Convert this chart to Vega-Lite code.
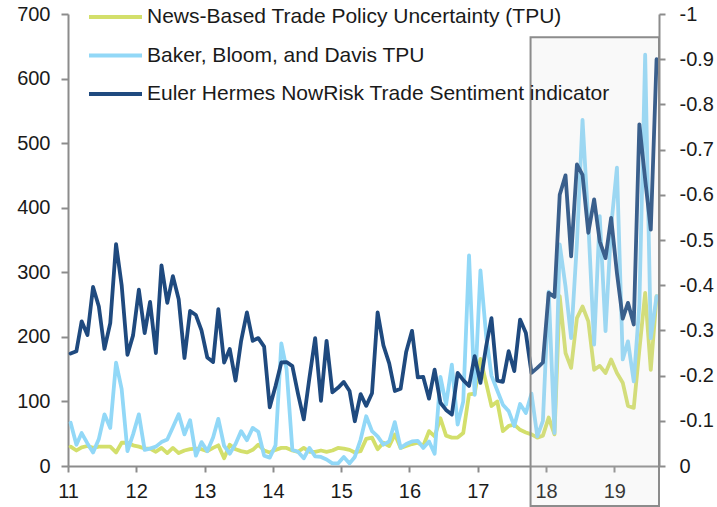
{
 "$schema": "https://vega.github.io/schema/vega-lite/v6.json",
 "width": 591,
 "height": 452,
 "autosize": {"type": "none"},
 "padding": {"left": 68, "top": 14, "right": 58, "bottom": 41},
 "background": "white",
 "config": {
  "view": {"stroke": null},
  "font": "Liberation Sans",
  "axis": {"grid": false, "domainColor": "#8c8c8c", "domainWidth": 2, "tickColor": "#8c8c8c", "tickWidth": 2, "labelFont": "Liberation Sans", "labelFontSize": 20, "labelColor": "#1a1a1a", "title": null},
  "axisX": {"labelExpr": "utcFormat(datum.value, '%y')", "tickCount": {"interval": "year", "step": 1}, "tickSize": 6, "labelPadding": 9, "labelFlush": false, "labelOverlap": false},
  "legend": {"orient": "none", "legendX": 19, "legendY": -7, "symbolType": "stroke", "symbolSize": 2809, "symbolStrokeWidth": 4, "labelFont": "Liberation Sans", "labelFontSize": 21, "labelColor": "#1a1a1a", "labelLimit": 700, "labelOffset": 3, "rowPadding": 17.5, "clipHeight": 20, "padding": 0}
 },
 "datasets": {
  "series": [
   {"d":"2011-01-15","news":30,"bbd":67,"eh":-0.249},
   {"d":"2011-02-15","news":24,"bbd":33,"eh":-0.254},
   {"d":"2011-03-15","news":29,"bbd":51,"eh":-0.320},
   {"d":"2011-04-15","news":31,"bbd":35,"eh":-0.290},
   {"d":"2011-05-15","news":28,"bbd":21,"eh":-0.396},
   {"d":"2011-06-15","news":30,"bbd":42,"eh":-0.353},
   {"d":"2011-07-15","news":30,"bbd":80,"eh":-0.259},
   {"d":"2011-08-15","news":30,"bbd":59,"eh":-0.316},
   {"d":"2011-09-15","news":21,"bbd":160,"eh":-0.491},
   {"d":"2011-10-15","news":36,"bbd":119,"eh":-0.400},
   {"d":"2011-11-15","news":36,"bbd":23,"eh":-0.246},
   {"d":"2011-12-15","news":32,"bbd":49,"eh":-0.289},
   {"d":"2012-01-15","news":30,"bbd":80,"eh":-0.390},
   {"d":"2012-02-15","news":27,"bbd":25,"eh":-0.294},
   {"d":"2012-03-15","news":27,"bbd":27,"eh":-0.363},
   {"d":"2012-04-15","news":22,"bbd":30,"eh":-0.250},
   {"d":"2012-05-15","news":28,"bbd":37,"eh":-0.444},
   {"d":"2012-06-15","news":20,"bbd":41,"eh":-0.361},
   {"d":"2012-07-15","news":28,"bbd":60,"eh":-0.420},
   {"d":"2012-08-15","news":20,"bbd":80,"eh":-0.369},
   {"d":"2012-09-15","news":24,"bbd":49,"eh":-0.239},
   {"d":"2012-10-15","news":26,"bbd":71,"eh":-0.343},
   {"d":"2012-11-15","news":27,"bbd":16,"eh":-0.334},
   {"d":"2012-12-15","news":26,"bbd":37,"eh":-0.300},
   {"d":"2013-01-15","news":23,"bbd":23,"eh":-0.240},
   {"d":"2013-02-15","news":28,"bbd":44,"eh":-0.230},
   {"d":"2013-03-15","news":32,"bbd":73,"eh":-0.347},
   {"d":"2013-04-15","news":12,"bbd":31,"eh":-0.229},
   {"d":"2013-05-15","news":33,"bbd":19,"eh":-0.259},
   {"d":"2013-06-15","news":26,"bbd":34,"eh":-0.189},
   {"d":"2013-07-15","news":23,"bbd":54,"eh":-0.277},
   {"d":"2013-08-15","news":21,"bbd":40,"eh":-0.340},
   {"d":"2013-09-15","news":25,"bbd":59,"eh":-0.277},
   {"d":"2013-10-15","news":33,"bbd":53,"eh":-0.283},
   {"d":"2013-11-15","news":24,"bbd":16,"eh":-0.264},
   {"d":"2013-12-15","news":21,"bbd":13,"eh":-0.130},
   {"d":"2014-01-15","news":25,"bbd":32,"eh":-0.177},
   {"d":"2014-02-15","news":28,"bbd":190,"eh":-0.229},
   {"d":"2014-03-15","news":28,"bbd":150,"eh":-0.230},
   {"d":"2014-04-15","news":24,"bbd":25,"eh":-0.221},
   {"d":"2014-05-15","news":22,"bbd":22,"eh":-0.160},
   {"d":"2014-06-15","news":28,"bbd":12,"eh":-0.103},
   {"d":"2014-07-15","news":22,"bbd":28,"eh":-0.194},
   {"d":"2014-08-15","news":22,"bbd":15,"eh":-0.283},
   {"d":"2014-09-15","news":24,"bbd":14,"eh":-0.144},
   {"d":"2014-10-15","news":22,"bbd":10,"eh":-0.277},
   {"d":"2014-11-15","news":24,"bbd":4,"eh":-0.163},
   {"d":"2014-12-15","news":28,"bbd":4,"eh":-0.173},
   {"d":"2015-01-15","news":27,"bbd":14,"eh":-0.186},
   {"d":"2015-02-15","news":25,"bbd":4,"eh":-0.166},
   {"d":"2015-03-15","news":21,"bbd":14,"eh":-0.099},
   {"d":"2015-04-15","news":23,"bbd":41,"eh":-0.159},
   {"d":"2015-05-15","news":42,"bbd":77,"eh":-0.133},
   {"d":"2015-06-15","news":44,"bbd":54,"eh":-0.161},
   {"d":"2015-07-15","news":26,"bbd":46,"eh":-0.340},
   {"d":"2015-08-15","news":36,"bbd":33,"eh":-0.267},
   {"d":"2015-09-15","news":31,"bbd":38,"eh":-0.227},
   {"d":"2015-10-15","news":49,"bbd":68,"eh":-0.166},
   {"d":"2015-11-15","news":28,"bbd":28,"eh":-0.171},
   {"d":"2015-12-15","news":31,"bbd":34,"eh":-0.253},
   {"d":"2016-01-15","news":34,"bbd":38,"eh":-0.299},
   {"d":"2016-02-15","news":36,"bbd":39,"eh":-0.196},
   {"d":"2016-03-15","news":31,"bbd":28,"eh":-0.197},
   {"d":"2016-04-15","news":54,"bbd":38,"eh":-0.149},
   {"d":"2016-05-15","news":46,"bbd":19,"eh":-0.213},
   {"d":"2016-06-15","news":74,"bbd":138,"eh":-0.140},
   {"d":"2016-07-15","news":47,"bbd":95,"eh":-0.124},
   {"d":"2016-08-15","news":44,"bbd":157,"eh":-0.114},
   {"d":"2016-09-15","news":44,"bbd":64,"eh":-0.206},
   {"d":"2016-10-15","news":51,"bbd":100,"eh":-0.190},
   {"d":"2016-11-15","news":111,"bbd":326,"eh":-0.177},
   {"d":"2016-12-15","news":112,"bbd":110,"eh":-0.243},
   {"d":"2017-01-15","news":166,"bbd":303,"eh":-0.184},
   {"d":"2017-02-15","news":128,"bbd":200,"eh":-0.266},
   {"d":"2017-03-15","news":93,"bbd":140,"eh":-0.327},
   {"d":"2017-04-15","news":100,"bbd":117,"eh":-0.189},
   {"d":"2017-05-15","news":54,"bbd":95,"eh":-0.186},
   {"d":"2017-06-15","news":62,"bbd":85,"eh":-0.254},
   {"d":"2017-07-15","news":64,"bbd":62,"eh":-0.210},
   {"d":"2017-08-15","news":56,"bbd":96,"eh":-0.324},
   {"d":"2017-09-15","news":52,"bbd":82,"eh":-0.294},
   {"d":"2017-10-15","news":49,"bbd":112,"eh":-0.206},
   {"d":"2017-11-15","news":44,"bbd":46,"eh":-0.217},
   {"d":"2017-12-15","news":47,"bbd":70,"eh":-0.229},
   {"d":"2018-01-15","news":75,"bbd":270,"eh":-0.383},
   {"d":"2018-02-15","news":49,"bbd":51,"eh":-0.374},
   {"d":"2018-03-15","news":263,"bbd":343,"eh":-0.600},
   {"d":"2018-04-15","news":175,"bbd":278,"eh":-0.643},
   {"d":"2018-05-15","news":152,"bbd":198,"eh":-0.464},
   {"d":"2018-06-15","news":229,"bbd":345,"eh":-0.667},
   {"d":"2018-07-15","news":247,"bbd":536,"eh":-0.644},
   {"d":"2018-08-15","news":224,"bbd":376,"eh":-0.516},
   {"d":"2018-09-15","news":149,"bbd":188,"eh":-0.590},
   {"d":"2018-10-15","news":155,"bbd":387,"eh":-0.497},
   {"d":"2018-11-15","news":144,"bbd":209,"eh":-0.460},
   {"d":"2018-12-15","news":165,"bbd":371,"eh":-0.549},
   {"d":"2019-01-15","news":144,"bbd":462,"eh":-0.427},
   {"d":"2019-02-15","news":129,"bbd":165,"eh":-0.326},
   {"d":"2019-03-15","news":93,"bbd":193,"eh":-0.361},
   {"d":"2019-04-15","news":90,"bbd":131,"eh":-0.313},
   {"d":"2019-05-15","news":180,"bbd":250,"eh":-0.756},
   {"d":"2019-06-15","news":268,"bbd":637,"eh":-0.634},
   {"d":"2019-07-15","news":149,"bbd":198,"eh":-0.523},
   {"d":"2019-08-15","news":263,"bbd":263,"eh":-0.900}
  ],
  "box": [{"start":"2017-10-10","end":"2019-08-28","top":664,"bottom":-62}]
 },
 "layer": [
  {
   "data": {"name": "series"},
   "transform": [{"fold": ["news", "bbd"], "as": ["s", "v"]}],
   "mark": {"type": "line", "strokeWidth": 3.8, "strokeJoin": "round", "strokeCap": "round"},
   "encoding": {
    "x": {"field": "d", "type": "temporal", "scale": {"type": "utc", "domain": [{"year":2011,"month":1,"date":1,"utc":true},{"year":2019,"month":8,"date":28,"utc":true}]}},
    "y": {"field": "v", "type": "quantitative", "scale": {"domain": [0, 700], "nice": false}, "axis": {"orient": "left", "values": [0,100,200,300,400,500,600,700], "tickSize": 7, "labelPadding": 11}},
    "color": {"field": "s", "type": "nominal", "scale": {"domain": ["news", "bbd", "eh"], "range": ["#d3df6b", "#92d8f7", "#1f4a7f"]}, "legend": {"title": null, "labelExpr": "datum.label == 'news' ? 'News-Based Trade Policy Uncertainty (TPU)' : datum.label == 'bbd' ? 'Baker, Bloom, and Davis TPU' : 'Euler Hermes NowRisk Trade Sentiment indicator'"}}
   }
  },
  {
   "data": {"name": "series"},
   "transform": [{"fold": ["eh"], "as": ["s", "v"]}],
   "mark": {"type": "line", "strokeWidth": 3.8, "strokeJoin": "round", "strokeCap": "round"},
   "encoding": {
    "x": {"field": "d", "type": "temporal", "scale": {"type": "utc", "domain": [{"year":2011,"month":1,"date":1,"utc":true},{"year":2019,"month":8,"date":28,"utc":true}]}},
    "y": {"field": "v", "type": "quantitative", "scale": {"domain": [0, -1], "nice": false, "zero": false}, "axis": {"orient": "right", "values": [0,-0.1,-0.2,-0.3,-0.4,-0.5,-0.6,-0.7,-0.8,-0.9,-1], "tickSize": 6, "labelPadding": 14, "labelExpr": "datum.value == 0 ? '0' : datum.value == -1 ? '-1' : '-' + format(-datum.value, '.1f')"}},
    "color": {"field": "s", "type": "nominal"}
   }
  },
  {
   "data": {"name": "box"},
   "mark": {"type": "rect", "fill": "#d9d9d9", "fillOpacity": 0.15, "stroke": "#8c8c8c", "strokeWidth": 2},
   "encoding": {
    "x": {"field": "start", "type": "temporal", "scale": {"type": "utc", "domain": [{"year":2011,"month":1,"date":1,"utc":true},{"year":2019,"month":8,"date":28,"utc":true}]}},
    "x2": {"field": "end"},
    "y": {"field": "top", "type": "quantitative", "scale": {"domain": [0, 700], "nice": false}, "axis": null},
    "y2": {"field": "bottom"}
   }
  }
 ],
 "resolve": {"scale": {"y": "independent"}}
}
